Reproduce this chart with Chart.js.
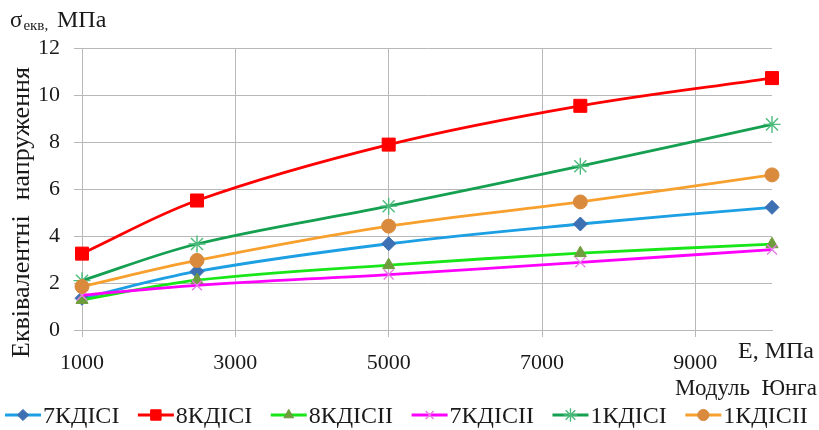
<!DOCTYPE html>
<html>
<head>
<meta charset="utf-8">
<script src="https://cdn.jsdelivr.net/npm/chart.js@4/dist/chart.umd.min.js"></script>
<style>
  html, body { margin: 0; padding: 0; background: #fff; }
  #wrap { width: 819px; height: 430px; position: relative; }
</style>
</head>
<body>
<div id="wrap"><canvas id="c" width="819" height="430"></canvas></div>
<script>
// Young's modulus values (MPa) where stresses were computed
const modulusE = [1000, 2500, 5000, 7500, 10000];
const xTickValues = [1000, 3000, 5000, 7000, 9000];
const yTickValues = [0, 2, 4, 6, 8, 10, 12];

// Equivalent stress (MPa) for each design variant
const seriesNames = ['7КДІСІ', '8КДІСІ', '8КДІСІІ', '7КДІСІІ', '1КДІСІ', '1КДІСІІ'];
const s7KDISI   = [1.35, 2.49, 3.67, 4.51, 5.22];
const s8KDISI   = [3.25, 5.51, 7.89, 9.54, 10.72];
const s8KDISII  = [1.28, 2.12, 2.76, 3.27, 3.65];
const s7KDISII  = [1.48, 1.90, 2.36, 2.88, 3.42];
const s1KDISI   = [2.10, 3.66, 5.27, 6.97, 8.75];
const s1KDISII  = [1.85, 2.96, 4.42, 5.45, 6.60];
const seriesValues = [s7KDISI, s8KDISI, s8KDISII, s7KDISII, s1KDISI, s1KDISII];

const seriesStyles = [
  { line: '#1c9fe3', point: '#3d6fb3', shape: 'rectRot',  r: 7 },
  { line: '#ff0000', point: '#ff0000', shape: 'rect',     r: 9.2 },
  { line: '#19e619', point: '#6f9c3c', shape: 'triangle', r: 7 },
  { line: '#ff00ff', point: '#e67ae6', shape: 'crossRot', r: 7 },
  { line: '#14a050', point: '#4cbb7c', shape: 'star',     r: 8.5 },
  { line: '#f7a02e', point: '#d98a3c', shape: 'circle',   r: 7 }
];

const FONT = "'Liberation Serif'";
const GRID = '#b8b8b8';
const INK = '#1a1a1a';

const datasets = seriesNames.map((name, i) => ({
  label: name,
  data: modulusE.map((x, k) => ({ x: x, y: seriesValues[i][k] })),
  showLine: true,
  borderColor: seriesStyles[i].line,
  backgroundColor: seriesStyles[i].line,
  borderWidth: 2.8,
  tension: 0.35,
  pointStyle: seriesStyles[i].shape,
  pointRadius: seriesStyles[i].r,
  pointHoverRadius: seriesStyles[i].r,
  pointBackgroundColor: seriesStyles[i].point,
  pointBorderColor: seriesStyles[i].point,
  pointBorderWidth: (seriesStyles[i].shape === 'crossRot' || seriesStyles[i].shape === 'star') ? 1.4 : 1,
  clip: false,
  order: seriesNames.length - i
}));

// Extra captions and the bottom legend
const captionsPlugin = {
  id: 'captions',
  afterDraw(chart) {
    const ctx = chart.ctx;
    ctx.save();
    ctx.fillStyle = INK;
    ctx.textBaseline = 'alphabetic';

    // Top-left unit label: σекв, МПа
    ctx.textAlign = 'left';
    ctx.font = '23px ' + FONT;
    ctx.fillText('σ', 10, 27);
    const wS = ctx.measureText('σ').width;
    ctx.font = '15px ' + FONT;
    ctx.fillText('екв,', 10 + wS + 1, 30);
    ctx.font = '24px ' + FONT;
    ctx.fillText('МПа', 57, 27);

    // Y-axis title, two words read bottom-to-top
    ctx.save();
    ctx.translate(29, 0);
    ctx.rotate(-Math.PI / 2);
    ctx.textAlign = 'left';
    ctx.font = '26px ' + FONT;
    const w1 = ctx.measureText('Еквівалентні').width;
    ctx.fillText('Еквівалентні', -358, 0);
    ctx.fillText('напруження', -358 + w1 + 15, 0);
    ctx.restore();

    // X-axis captions
    ctx.textAlign = 'right';
    ctx.font = '24px ' + FONT;
    ctx.fillText('E, МПа', 814, 358);
    ctx.font = '23px ' + FONT;
    ctx.fillText('Модуль  Юнга', 817, 395);

    // Legend row
    ctx.textAlign = 'left';
    ctx.font = '24px ' + FONT;
    let x = 5;
    const yc = 415;
    chart.data.datasets.forEach((ds) => {
      ctx.strokeStyle = ds.borderColor;
      ctx.lineWidth = 2.8;
      ctx.beginPath();
      ctx.moveTo(x, yc);
      ctx.lineTo(x + 36, yc);
      ctx.stroke();
      ctx.fillStyle = ds.pointBackgroundColor;
      ctx.strokeStyle = ds.pointBorderColor;
      ctx.lineWidth = ds.pointBorderWidth;
      Chart.helpers.drawPoint(ctx, {
        pointStyle: ds.pointStyle,
        radius: ds.pointRadius * 0.8,
        rotation: 0,
        borderWidth: ds.pointBorderWidth
      }, x + 18, yc);
      ctx.fillStyle = INK;
      ctx.fillText(ds.label, x + 38, yc + 8);
      x += 38 + ctx.measureText(ds.label).width + 18.5;
    });
    ctx.restore();
  }
};

new Chart(document.getElementById('c'), {
  type: 'scatter',
  data: { datasets: datasets },
  options: {
    responsive: false,
    animation: false,
    events: [],
    layout: { padding: { left: 0, right: 47, top: 48, bottom: 60 } },
    plugins: {
      legend: { display: false },
      tooltip: { enabled: false },
      title: { display: false }
    },
    scales: {
      x: {
        type: 'linear',
        min: 1000,
        max: 10000,
        afterBuildTicks: (scale) => { scale.ticks = xTickValues.map(v => ({ value: v })); },
        afterFit: (scale) => { scale.height = 40; },
        grid: { color: GRID, lineWidth: 1, tickLength: 7, drawTicks: true },
        border: { color: GRID, width: 1 },
        ticks: {
          font: { family: FONT, size: 22 },
          color: INK,
          padding: 13,
          maxRotation: 0,
          autoSkip: false,
          callback: (v) => String(v)
        }
      },
      y: {
        min: 0,
        max: 12,
        afterBuildTicks: (scale) => { scale.ticks = yTickValues.map(v => ({ value: v })); },
        afterFit: (scale) => { scale.width = 82; },
        grid: { color: GRID, lineWidth: 1, tickLength: 8, drawTicks: true },
        border: { color: GRID, width: 1 },
        ticks: {
          font: { family: FONT, size: 22 },
          color: INK,
          padding: 14,
          callback: (v) => String(v)
        }
      }
    }
  },
  plugins: [captionsPlugin]
});
</script>
</body>
</html>
